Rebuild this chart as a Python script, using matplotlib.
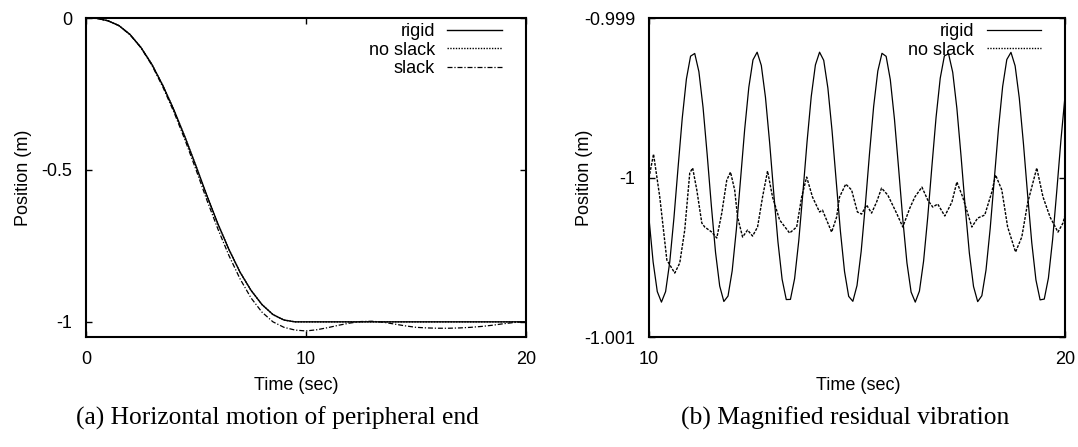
import numpy as np
import matplotlib.pyplot as plt
from matplotlib.lines import Line2D

plt.rcParams['font.family'] = ['Liberation Sans', 'DejaVu Sans']

# ==== (a) horizontal motion ====
t_a = [0, 0.5, 1, 1.5, 2, 2.5, 3, 3.5, 4, 4.5, 5, 5.5, 6, 6.5, 7, 7.5, 8, 8.5, 9, 9.5, 10,
       11, 12, 13, 14, 15, 16, 17, 18, 19, 20]
rigid_a = [0, -0.001, -0.009, -0.025, -0.054, -0.097, -0.153, -0.223, -0.303, -0.392, -0.487,
           -0.585, -0.678, -0.762, -0.836, -0.896, -0.943, -0.976, -0.994, -1.000, -1.000,
           -1.000, -1.000, -1.000, -1.000, -1.000, -1.000, -1.000, -1.000, -1.000, -1.000]
noslack_a = [0, -0.001, -0.009, -0.025, -0.054, -0.097, -0.153, -0.223, -0.303, -0.392, -0.487,
             -0.585, -0.678, -0.762, -0.836, -0.896, -0.943, -0.976, -0.994, -1.000, -1.000,
             -1.000, -1.000, -1.000, -1.000, -1.000, -1.000, -1.000, -1.000, -1.000, -1.000]

t_slack = [0, 0.5, 1, 1.5, 2, 2.5, 3, 3.5, 4, 4.5, 5, 5.5, 6, 6.5, 7, 7.5, 8, 8.5, 9, 9.5, 10,
           10.5, 11, 11.5, 12, 12.5, 13, 13.5, 14, 14.5, 15, 15.5, 16, 16.5, 17, 17.5, 18, 18.5,
           19, 19.5, 20]
slack_a = [0, -0.001, -0.009, -0.025, -0.055, -0.098, -0.156, -0.228, -0.310, -0.401, -0.499,
           -0.600, -0.695, -0.782, -0.858, -0.921, -0.968, -1.000, -1.018, -1.027, -1.030,
           -1.026, -1.019, -1.011, -1.004, -0.999, -0.998, -1.001, -1.007, -1.013, -1.018,
           -1.020, -1.021, -1.021, -1.020, -1.018, -1.015, -1.011, -1.006, -1.002, -0.999]

# ==== (b) residual vibration, deviation from -1 m in mm ====
t_b = np.linspace(10, 20, 101)  # sample every 0.1 s
rigid_b_mm = [-0.254, -0.529, -0.715, -0.781, -0.715, -0.529, -0.254, 0.064, 0.372, 0.618,
              0.761, 0.778, 0.664, 0.440, 0.142, -0.178, -0.469, -0.680, -0.777, -0.743,
              -0.585, -0.327, -0.015, 0.301, 0.566, 0.738, 0.786, 0.703, 0.503, 0.219,
              -0.101, -0.403, -0.638, -0.765, -0.764, -0.634, -0.397, -0.094, 0.226, 0.508,
              0.706, 0.786, 0.735, 0.561, 0.294, -0.022, -0.334, -0.589, -0.745, -0.776,
              -0.677, -0.463, -0.172, 0.149, 0.446, 0.668, 0.779, 0.760, 0.614, 0.366,
              0.057, -0.261, -0.535, -0.718, -0.781, -0.712, -0.524, -0.248, 0.071, 0.378,
              0.623, 0.763, 0.776, 0.660, 0.434, 0.135, -0.185, -0.474, -0.683, -0.778,
              -0.741, -0.580, -0.321, -0.008, 0.307, 0.571, 0.740, 0.785, 0.700, 0.498,
              0.212, -0.108, -0.409, -0.642, -0.767, -0.762, -0.630, -0.391, -0.087, 0.233,
              0.514]

t_ns = [10.00, 10.11, 10.26, 10.43, 10.62, 10.74, 10.86, 10.98, 11.05, 11.15, 11.27, 11.34,
        11.51, 11.63, 11.75, 11.87, 11.96, 12.06, 12.13, 12.25, 12.37, 12.49, 12.61, 12.73,
        12.85, 12.97, 13.14, 13.38, 13.55, 13.67, 13.79, 13.93, 14.10, 14.17, 14.39, 14.51,
        14.58, 14.73, 14.87, 15.01, 15.11, 15.23, 15.35, 15.47, 15.59, 15.74, 15.95, 16.10,
        16.27, 16.39, 16.56, 16.70, 16.82, 16.94, 17.11, 17.28, 17.40, 17.54, 17.76, 17.90,
        18.07, 18.24, 18.33, 18.48, 18.62, 18.81, 18.96, 19.10, 19.32, 19.47, 19.64, 19.83,
        19.95, 20.00]
noslack_b_mm = [-0.003, 0.147, -0.122, -0.517, -0.599, -0.536, -0.329, 0.028, 0.060, -0.078,
                -0.285, -0.310, -0.342, -0.379, -0.223, -0.016, 0.034, -0.078, -0.248, -0.373,
                -0.329, -0.367, -0.310, -0.122, 0.041, -0.122, -0.266, -0.348, -0.310, -0.122,
                0.003, -0.122, -0.216, -0.204, -0.342, -0.248, -0.122, -0.041, -0.078, -0.216,
                -0.229, -0.172, -0.223, -0.154, -0.066, -0.110, -0.223, -0.310, -0.191, -0.122,
                -0.060, -0.141, -0.185, -0.166, -0.241, -0.154, -0.028, -0.122, -0.310, -0.254,
                -0.235, -0.091, 0.016, -0.078, -0.310, -0.467, -0.373, -0.160, 0.060, -0.122,
                -0.248, -0.342, -0.285, -0.235]

rigid_b = -1 + np.array(rigid_b_mm) * 1e-3
noslack_b = -1 + np.array(noslack_b_mm) * 1e-3

# ==== plotting ====
fig = plt.figure(figsize=(10.78, 4.47), dpi=100)
ax1 = fig.add_axes([0.0798, 0.246, 0.408, 0.7136])
ax2 = fig.add_axes([0.602, 0.246, 0.386, 0.7136])

dot = (0, (1, 1))
dashdot = (0, (4, 1.5, 1, 1.5))

ax1.plot(t_a, rigid_a, color='black', lw=1.0, label='rigid')
ax1.plot(t_a, noslack_a, color='black', lw=1.0, linestyle=dot, label='no slack')
ax1.plot(t_slack, slack_a, color='black', lw=0.9, linestyle=dashdot, label='slack')
ax1.set_xlim(0, 20)
ax1.set_ylim(-1.05, 0)
ax1.set_xticks([0, 10, 20], ['0', '10', '20'])
ax1.set_yticks([0, -0.5, -1], ['0', '-0.5', '-1'])

ax2.plot(t_b, rigid_b, color='black', lw=0.9, label='rigid')
ax2.plot(t_ns, noslack_b, color='black', lw=1.0, linestyle=(0, (2, 1)))
ax2.set_xlim(10, 20)
ax2.set_ylim(-1.001, -0.999)
ax2.set_xticks([10, 20], ['10', '20'])
ax2.set_yticks([-0.999, -1, -1.001], ['-0.999', '-1', '-1.001'])

for ax, xl in ((ax1, 0.477), (ax2, 0.502)):
    for s in ax.spines.values():
        s.set_linewidth(1.5)
    ax.tick_params(direction='in', top=True, right=True, length=4, width=1,
                   labelsize=13, pad=10)
    ax.set_xlabel('Time (sec)', fontsize=13)
    ax.set_ylabel('Position (m)', fontsize=13)
    ax.xaxis.label.set_va('center')
    ax.xaxis.set_label_coords(xl, -0.152)

ax1.yaxis.set_label_coords(-0.123, 0.5)
ax2.yaxis.set_label_coords(-0.135, 0.5)

leg_kw = dict(loc='upper right', frameon=False, markerfirst=False, fontsize=13,
              handlelength=3.0, handletextpad=0.7, labelspacing=0.1,
              borderpad=0, borderaxespad=0)
ax1.legend(bbox_to_anchor=(0.945, 0.985), **leg_kw)
h_rigid = Line2D([], [], color='black', lw=0.9)
h_ns = Line2D([], [], color='black', lw=1.0, linestyle=dot)
ax2.legend([h_rigid, h_ns], ['rigid', 'no slack'], bbox_to_anchor=(0.942, 0.985), **leg_kw)

fig.text(277 / 1078, 1 - 418 / 447, '(a) Horizontal motion of peripheral end',
         ha='center', va='center', fontsize=18.4, family=['Liberation Serif', 'DejaVu Serif'])
fig.text(845 / 1078, 1 - 418 / 447, '(b) Magnified residual vibration',
         ha='center', va='center', fontsize=18.4, family=['Liberation Serif', 'DejaVu Serif'])

fig.savefig('out.png', dpi=100)
